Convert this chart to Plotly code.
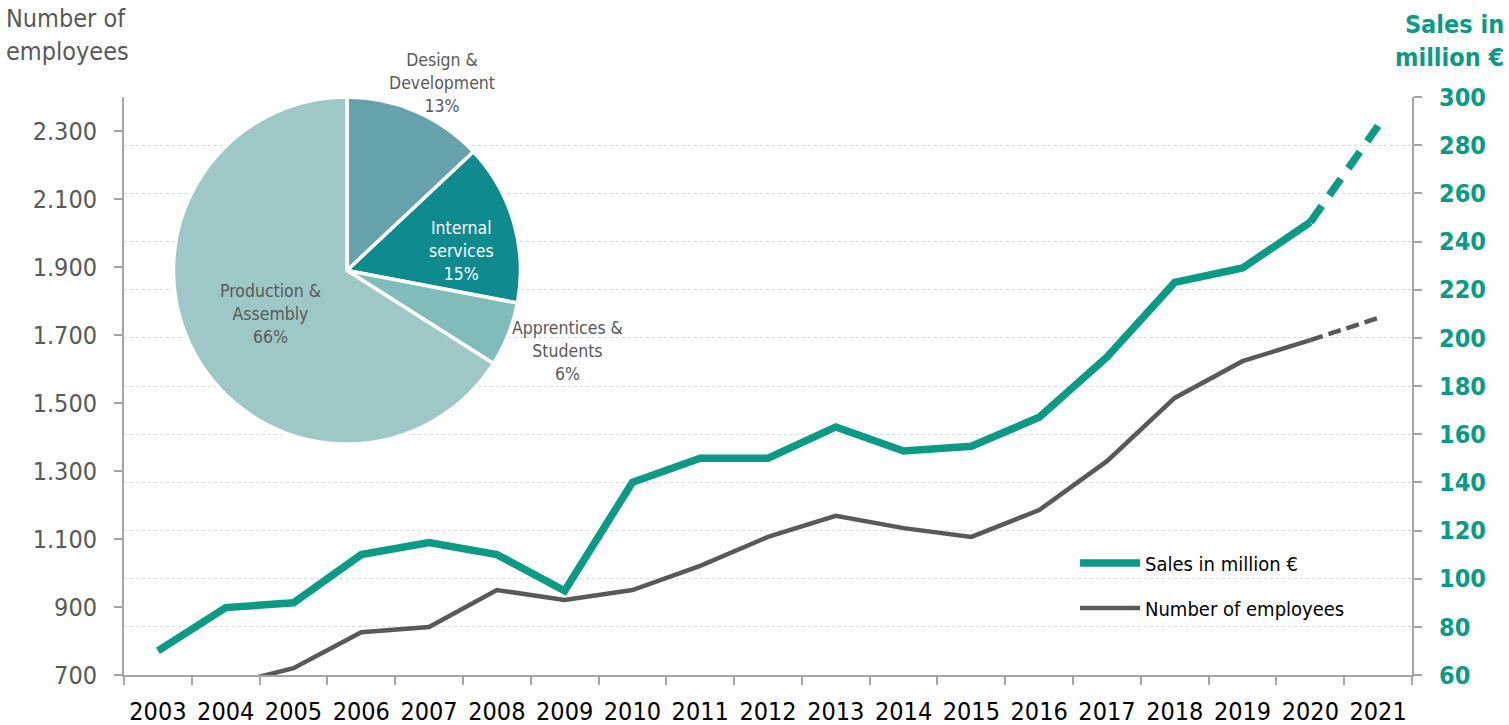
import plotly.graph_objects as go

# ---------------- data ----------------
years = [str(y) for y in range(2003, 2022)]
sales = [70, 88, 90, 110, 115, 110, 95, 140, 150, 150, 163, 153, 155, 167, 192, 223, 229, 248, 288]
employees = [610, 670, 720, 826, 841, 950, 921, 950, 1021, 1106, 1168, 1132, 1106, 1185, 1329, 1515, 1623, 1685, 1750]
n_actual = 18  # 2003..2020 actual, 2021 forecast (dashed)

pie_labels = ["Design &<br>Development", "Internal<br>services", "Apprentices &<br>Students", "Production &<br>Assembly"]
pie_values = [13, 15, 6, 66]
pie_colors = ["#66A2AB", "#0F8A8E", "#80BDBA", "#9DC8C6"]

left_ticks = list(range(700, 2301, 200))
right_ticks = list(range(60, 301, 20))

# ---------------- style ----------------
TEAL = "#0A9A85"
GREY = "#595959"
AXIS = "#A6A6A6"
FONT = "DejaVu Sans Condensed, DejaVu Sans, sans-serif"

W, H = 1509, 725
ML, MR, MT, MB = 124, 97, 97, 50
PW = W - ML - MR
PH = H - MT - MB


def px(x):
    return (x - ML) / PW


def py(y):
    return (H - MB - y) / PH


fig = go.Figure()

fig.add_trace(go.Scatter(
    x=years[:n_actual], y=employees[:n_actual], name="Number of employees",
    mode="lines", line=dict(color=GREY, width=4.5), yaxis="y", legend="legend2",
))
fig.add_trace(go.Scatter(
    x=years[n_actual - 1:], y=employees[n_actual - 1:], showlegend=False,
    mode="lines", line=dict(color=GREY, width=4.5, dash="13px,6px"), yaxis="y",
))
fig.add_trace(go.Scatter(
    x=years[:n_actual], y=sales[:n_actual], name="Sales in million €",
    mode="lines", line=dict(color=TEAL, width=7.5), yaxis="y2", legend="legend",
))
fig.add_trace(go.Scatter(
    x=years[n_actual - 1:], y=sales[n_actual - 1:], showlegend=False,
    mode="lines", line=dict(color=TEAL, width=7.5, dash="20px,13px"), yaxis="y2",
))

fig.add_trace(go.Pie(
    labels=[l.replace("<br>", " ") for l in pie_labels], values=pie_values,
    marker=dict(colors=pie_colors, line=dict(color="white", width=3.5)),
    sort=False, direction="clockwise", rotation=0, textinfo="none", textposition="none",
    hoverinfo="label+percent", showlegend=False,
    domain=dict(x=[px(172), px(522)], y=[py(444), 1.0]),
))

label_pos = [(442, 83), (461, 251), (567, 351), (270, 314)]
label_col = [GREY, "white", GREY, GREY]
annotations = []
for lab, val, (lx, ly), c in zip(pie_labels, pie_values, label_pos, label_col):
    annotations.append(dict(
        text=f"{lab}<br>{val}%", x=px(lx), y=py(ly), xref="paper", yref="paper",
        xanchor="center", yanchor="middle",
        showarrow=False, font=dict(family=FONT, size=17.5, color=c), align="center",
    ))

annotations.append(dict(
    text="Number of<br>employees", x=px(4), y=py(2), xref="paper", yref="paper",
    xanchor="left", yanchor="top", showarrow=False, align="left",
    font=dict(family=FONT, size=25, color=GREY),
))
annotations.append(dict(
    text="Sales in<br>million €", x=px(1506), y=py(8), xref="paper", yref="paper",
    xanchor="right", yanchor="top", showarrow=False, align="right",
    font=dict(family=FONT, size=25, color=TEAL, weight="bold"),
))

fig.update_layout(
    width=W, height=H, autosize=False,
    margin=dict(l=ML, r=MR, t=MT, b=MB, pad=0),
    paper_bgcolor="white", plot_bgcolor="white",
    separators=",.",
    font=dict(family=FONT, color=GREY),
    xaxis=dict(
        type="category", range=[-0.5, len(years) - 0.5], tickson="boundaries",
        ticks="outside", ticklen=8, tickwidth=1.5, tickcolor=AXIS,
        showline=True, linecolor=AXIS, linewidth=2, showgrid=False, automargin=False,
        tickfont=dict(family=FONT, size=25, color="black"), ticklabelstandoff=13,
    ),
    yaxis=dict(
        range=[700, 2400], tickmode="array", tickvals=left_ticks, tickformat=",",
        ticks="outside", ticklen=8, tickwidth=1.5, tickcolor=AXIS, automargin=False,
        showline=True, linecolor=AXIS, linewidth=2, showgrid=False, zeroline=False,
        tickfont=dict(family=FONT, size=25, color=GREY), ticklabelstandoff=12,
    ),
    yaxis2=dict(
        range=[60, 300], tickmode="array", tickvals=right_ticks, overlaying="y", side="right",
        ticks="outside", ticklen=8, tickwidth=1.5, tickcolor=AXIS, automargin=False,
        showline=True, linecolor=AXIS, linewidth=2, zeroline=False,
        showgrid=True, gridcolor="#D9D9D9", gridwidth=1, griddash="dot",
        tickfont=dict(family=FONT, size=25, color=TEAL, weight="bold"), ticklabelstandoff=12,
    ),
    legend=dict(
        x=px(1075), y=py(563), xanchor="left", yanchor="middle",
        font=dict(family=FONT, size=20, color="black"), itemwidth=60,
        bgcolor="rgba(0,0,0,0)",
    ),
    legend2=dict(
        x=px(1075), y=py(608), xanchor="left", yanchor="middle",
        font=dict(family=FONT, size=20, color="black"), itemwidth=60,
        bgcolor="rgba(0,0,0,0)",
    ),
    annotations=annotations,
    showlegend=True,
)

fig.write_html(
    "out.html",
    config={"displayModeBar": False},
    post_script="document.body.style.margin='0px';document.body.style.overflow='hidden';",
)
